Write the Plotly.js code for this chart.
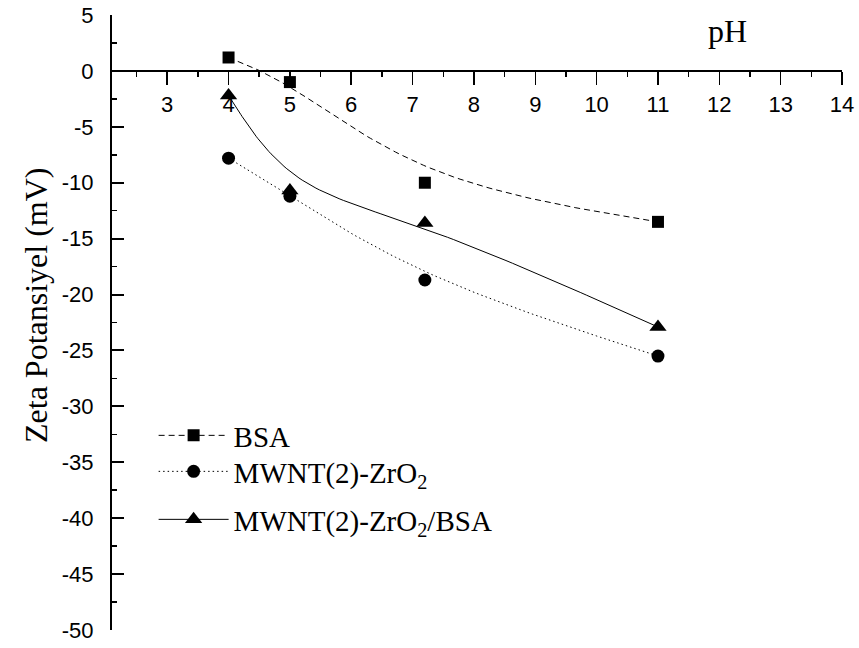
<!DOCTYPE html>
<html>
<head>
<meta charset="utf-8">
<script src="https://cdn.plot.ly/plotly-3.0.1.min.js"></script>
<style>html,body{margin:0;padding:0;background:#fff;}#chart{width:859px;height:648px;}</style>
</head>
<body>
<div id="chart"></div>
<script>
// ---- data ----
const pH = [4, 5, 7.2, 11];
const bsa = [1.2, -1.0, -10.0, -13.5];
const mwntZrO2 = [-7.8, -11.2, -18.7, -25.5];
const mwntZrO2Bsa = [-2.2, -10.7, -13.6, -22.9];
const seriesNames = ['BSA', 'MWNT(2)-ZrO<sub>2</sub>', 'MWNT(2)-ZrO<sub>2</sub>/BSA'];
const xTicks = [3, 4, 5, 6, 7, 8, 9, 10, 11, 12, 13, 14];
const yTicks = [-50, -45, -40, -35, -30, -25, -20, -15, -10, -5, 0, 5];

// uniform cubic B-spline connector (end points tripled), as in Origin's "B-Spline" line
function bspline(xs, ys, steps) {
  const n = xs.length;
  const px = [xs[0], xs[0]].concat(xs, [xs[n - 1], xs[n - 1]]);
  const py = [ys[0], ys[0]].concat(ys, [ys[n - 1], ys[n - 1]]);
  const ox = [], oy = [];
  for (let i = 0; i + 3 < px.length; i++) {
    for (let s = 0; s <= steps; s++) {
      if (i > 0 && s === 0) continue;
      const u = s / steps;
      const b0 = Math.pow(1 - u, 3) / 6;
      const b1 = (3 * u * u * u - 6 * u * u + 4) / 6;
      const b2 = (-3 * u * u * u + 3 * u * u + 3 * u + 1) / 6;
      const b3 = u * u * u / 6;
      ox.push(b0 * px[i] + b1 * px[i + 1] + b2 * px[i + 2] + b3 * px[i + 3]);
      oy.push(b0 * py[i] + b1 * py[i + 1] + b2 * py[i + 2] + b3 * py[i + 3]);
    }
  }
  return {x: ox, y: oy};
}

const series = [
  {y: bsa, name: seriesNames[0], symbol: 'square', size: 12, dash: '6px,4px', legend: 'legend'},
  {y: mwntZrO2, name: seriesNames[1], symbol: 'circle', size: 13, dash: '1.5px,3px', legend: 'legend2'},
  {y: mwntZrO2Bsa, name: seriesNames[2], symbol: 'triangle-up', size: 15, dash: 'solid', legend: 'legend3'}
];

const traces = [];
series.forEach(function (s) {
  const c = bspline(pH, s.y, 30);
  traces.push({x: c.x, y: c.y, mode: 'lines', showlegend: false, hoverinfo: 'skip',
    line: {color: '#000', width: 1, dash: s.dash}});
  traces.push({x: pH, y: s.y, mode: 'markers', showlegend: false,
    marker: {symbol: s.symbol, size: s.size, color: '#000'}});
  traces.push({x: [null], y: [null], mode: 'lines+markers', name: s.name, showlegend: true,
    legend: s.legend,
    line: {color: '#000', width: 1, dash: s.dash},
    marker: {symbol: s.symbol, size: s.size, color: '#000'}});
});

function legendAt(top) {
  return {
    x: 0.057, y: (630 - top) / 615, xanchor: 'left', yanchor: 'top',
    bgcolor: 'rgba(0,0,0,0)', borderwidth: 0, itemwidth: 70,
    font: {family: 'Liberation Serif, Times New Roman, serif', size: 29, color: '#000'}
  };
}

const layout = {
  width: 859, height: 648,
  margin: {l: 112, r: 17, t: 15, b: 18, pad: 0},
  paper_bgcolor: '#fff', plot_bgcolor: '#fff',
  showlegend: true,
  font: {family: 'Liberation Sans, Arial, sans-serif', color: '#000'},
  xaxis: {
    range: [2.1, 14], anchor: 'free', position: 50 / 55,
    tickvals: xTicks, ticktext: xTicks.map(String),
    ticks: 'outside', ticklen: 13, tickwidth: 1.5, tickcolor: '#000',
    minor: {dtick: 0.5, tick0: 0, ticks: 'outside', ticklen: 5, tickwidth: 1.5, tickcolor: '#000'},
    showline: true, linewidth: 2, linecolor: '#000',
    showgrid: false, zeroline: false,
    tickfont: {family: 'Liberation Sans, Arial, sans-serif', size: 22, color: '#000'},
    ticklabelstandoff: 1
  },
  yaxis: {
    range: [-50, 5],
    tickvals: yTicks, ticktext: yTicks.map(String),
    ticks: 'inside', ticklen: 12, tickwidth: 2, tickcolor: '#000',
    minor: {dtick: 2.5, tick0: 0, ticks: 'inside', ticklen: 5, tickwidth: 1.5, tickcolor: '#000'},
    showline: true, linewidth: 2, linecolor: '#000',
    showgrid: false, zeroline: false,
    tickfont: {family: 'Liberation Sans, Arial, sans-serif', size: 22, color: '#000'},
    ticklabelstandoff: 12
  },
  legend: legendAt(410),
  legend2: legendAt(446),
  legend3: legendAt(494),
  annotations: [
    {x: 12.13, y: 3.6, xref: 'x', yref: 'y', text: 'pH', showarrow: false,
      font: {family: 'Liberation Serif, Times New Roman, serif', size: 32, color: '#000'}},
    {x: (36 - 112) / 730, y: (630 - 306) / 615, xref: 'paper', yref: 'paper',
      xanchor: 'center', yanchor: 'middle', textangle: -90,
      text: 'Zeta Potansiyel (mV)', showarrow: false,
      font: {family: 'Liberation Serif, Times New Roman, serif', size: 32, color: '#000'}}
  ]
};

Plotly.newPlot('chart', traces, layout, {displayModeBar: false, staticPlot: true});
</script>
</body>
</html>
